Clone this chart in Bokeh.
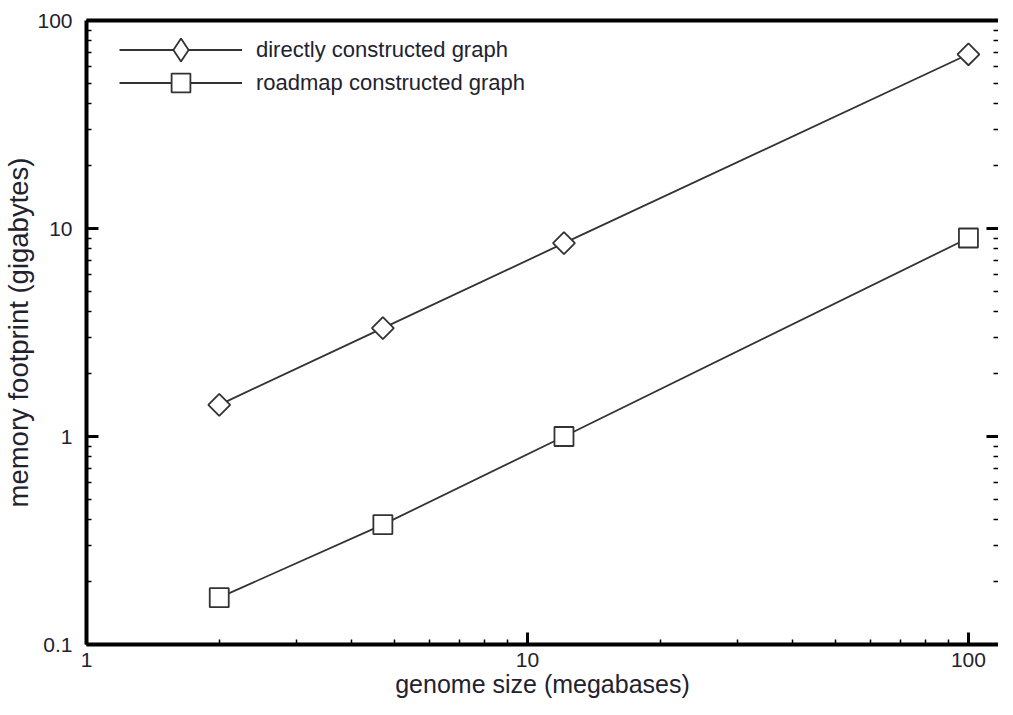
import numpy as np
from bokeh.plotting import figure
from bokeh.models import (LogAxis, FixedTicker, Legend, LegendItem,
                          ColumnDataSource, CustomJSTickFormatter)
from bokeh.embed import file_html
from bokeh.resources import INLINE

# ---- data ----
genome_size = [2.0, 4.7, 12.1, 100.0]          # megabases
direct_mem = [1.42, 3.32, 8.5, 68.8]           # gigabytes
roadmap_mem = [0.168, 0.377, 1.0, 9.0]         # gigabytes
series_names = ["directly constructed graph", "roadmap constructed graph"]

x_major = [1, 10, 100]
x_minor = [m * d for d in [1, 10] for m in range(2, 10)]
y_major = [0.1, 1, 10, 100]
y_minor = [m * d for d in [0.1, 1, 10] for m in range(2, 10)]

TEXT = "#22222e"
INK = "#333333"
FONT = "Liberation Sans"

p = figure(frame_width=912, frame_height=624, x_axis_type="log", y_axis_type="log",
           x_range=(1, 117), y_range=(0.1, 100),
           output_backend="svg", toolbar_location=None,
           min_border_left=82, min_border_top=20, min_border_bottom=0,
           min_border_right=0)
p.grid.visible = False
p.outline_line_color = None

fmt = CustomJSTickFormatter(code="return String(tick)")

def style_axis(ax, ticks, minor):
    ax.ticker = FixedTicker(ticks=ticks, minor_ticks=minor)
    ax.formatter = fmt
    ax.axis_line_width = 4
    ax.axis_line_color = "black"
    ax.major_tick_in = 12
    ax.major_tick_out = 0
    ax.major_tick_line_width = 3
    ax.major_tick_line_color = "black"
    ax.minor_tick_in = 5
    ax.minor_tick_out = 0
    ax.minor_tick_line_width = 1.5
    ax.minor_tick_line_color = "black"
    ax.major_label_text_font = FONT
    ax.major_label_text_color = TEXT
    ax.major_label_text_font_size = "21px"
    ax.axis_label_text_font = FONT
    ax.axis_label_text_font_style = "normal"
    ax.axis_label_text_color = TEXT

xa = p.xaxis[0]
style_axis(xa, x_major, x_minor)
xa.axis_label = "genome size (megabases)"
xa.axis_label_text_font_size = "25px"
xa.major_label_standoff = 8
xa.axis_label_standoff = 0

ya = p.yaxis[0]
style_axis(ya, y_major, y_minor)
ya.axis_label = "memory footprint (gigabytes)"
ya.axis_label_text_font_size = "27.5px"
ya.major_label_standoff = 14
ya.axis_label_standoff = 0

# right-hand tick marks (no labels)
ra = LogAxis(ticker=FixedTicker(ticks=y_major, minor_ticks=y_minor),
             axis_line_color=None, axis_line_width=0,
             major_tick_in=12, major_tick_out=0, major_tick_line_width=3,
             minor_tick_in=5, minor_tick_out=0, minor_tick_line_width=1.5,
             major_label_text_alpha=0, major_label_text_font_size="1px",
             major_label_standoff=0)
p.add_layout(ra, "right")

ta = LogAxis()
ta.ticker = FixedTicker(ticks=[], minor_ticks=[])
ta.axis_line_width = 4
ta.axis_line_color = "black"
ta.major_label_text_font_size = "0px"
ta.major_label_standoff = 0
ta.major_tick_line_color = None
ta.minor_tick_line_color = None
p.add_layout(ta, "above")

src_d = ColumnDataSource(dict(x=genome_size, y=direct_mem))
src_r = ColumnDataSource(dict(x=genome_size, y=roadmap_mem))

l1 = p.line("x", "y", source=src_d, line_color=INK, line_width=1.8)
# plain diamond symbol, hidden under the drawn markers; it supplies the legend symbol
d_leg = p.scatter("x", "y", source=src_d, marker="diamond", size=20,
                  fill_color="white", line_color=INK, line_width=1.8)
m1 = p.scatter("x", "y", source=src_d, marker="square", angle=np.pi / 4,
               size=15.5, fill_color="white", line_color=INK, line_width=1.8)
l2 = p.line("x", "y", source=src_r, line_color=INK, line_width=1.8)
m2 = p.scatter("x", "y", source=src_r, marker="square", size=19,
               fill_color="white", line_color=INK, line_width=1.8)

common = dict(padding=0, spacing=0, margin=0, glyph_width=123,
              label_standoff=14, label_text_font=FONT,
              label_text_font_size="22px", label_text_color=TEXT,
              background_fill_alpha=0, border_line_color=None)

leg1 = Legend(items=[LegendItem(label=series_names[0], renderers=[l1, d_leg])],
              location=(33, 566), glyph_height=57, label_height=57, **common)
leg2 = Legend(items=[LegendItem(label=series_names[1], renderers=[l2, m2])],
              location=(33, 538), glyph_height=47, label_height=47, **common)
p.add_layout(leg1)
p.add_layout(leg2)

open("out.html", "w").write(file_html(p, INLINE))
